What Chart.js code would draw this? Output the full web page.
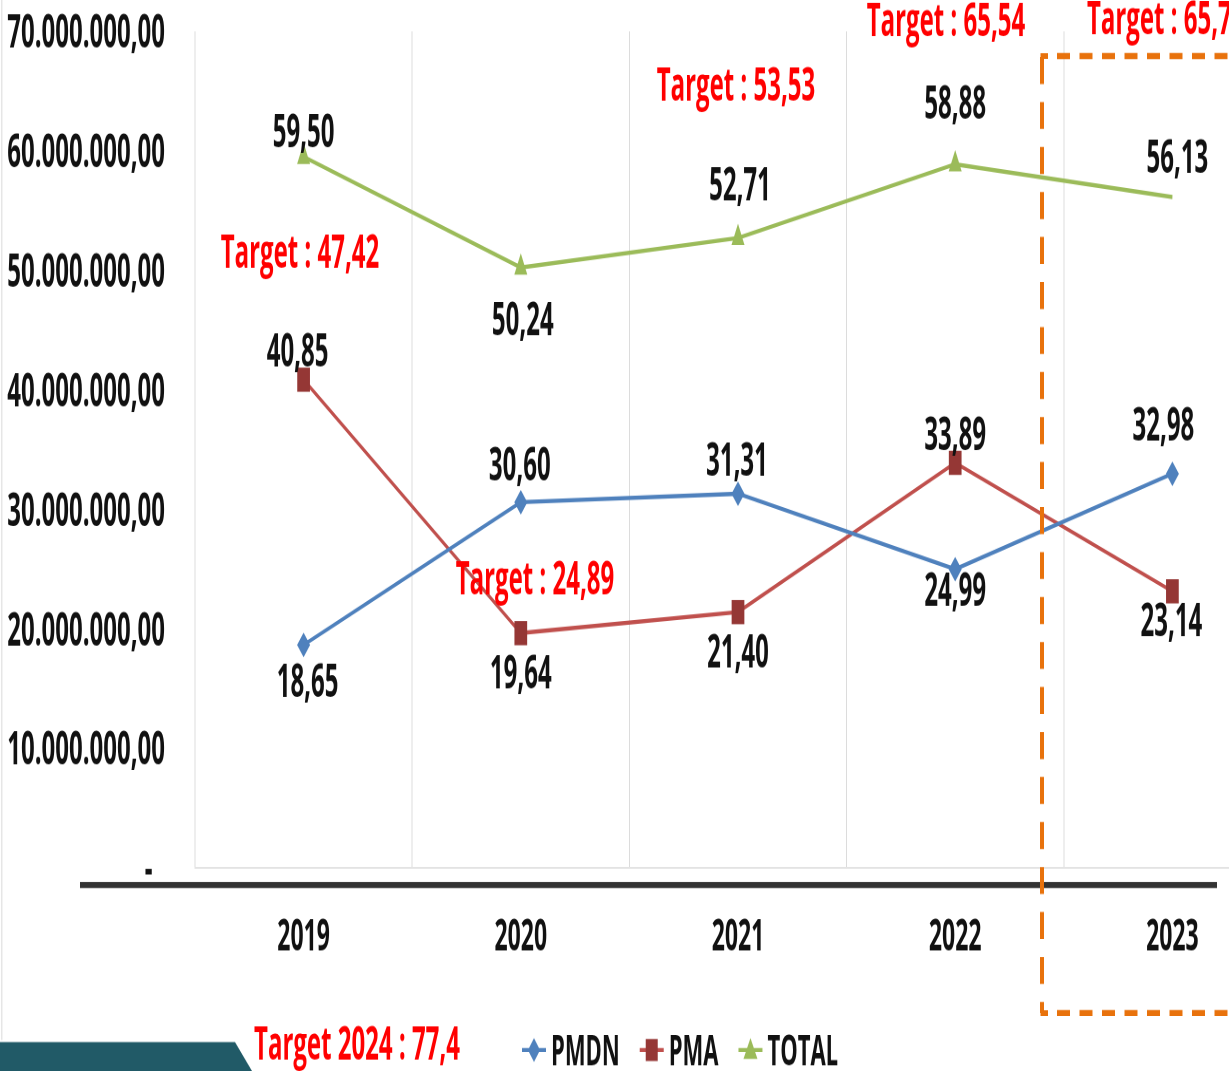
<!DOCTYPE html>
<html>
<head>
<meta charset="utf-8">
<script src="https://cdn.jsdelivr.net/npm/chart.js@4.4.0/dist/chart.umd.min.js"></script>
<style>
  html, body { margin: 0; padding: 0; background: #fff; overflow: hidden; }
  #wrap { width: 1229px; height: 1071px; overflow: hidden; position: relative; }
  #investChart { display: block; }
</style>
</head>
<body>
<div id="wrap">
  <canvas id="investChart" width="1290" height="564" style="width:1290px;height:1071px"></canvas>
</div>
<script>
// the original picture is squeezed sideways, so the canvas is drawn short and stretched tall
const H = 564;
const S = 1071 / H;

const years = ['2019', '2020', '2021', '2022', '2023'];
const pmdn  = [18.65, 30.60, 31.31, 24.99, 32.98];
const pma   = [40.85, 19.64, 21.40, 33.89, 23.14];
const total = [59.50, 50.24, 52.71, 58.88, 56.13];
const yTicks = [0, 10, 20, 30, 40, 50, 60, 70]; // juta
const targets = ['Target : 47,42', 'Target : 24,89', 'Target : 53,53', 'Target : 65,54', 'Target : 65,7'];
const target2024 = 'Target 2024 : 77,4';

const FONT = '"Open Sans", "Liberation Sans", sans-serif';

function fmtAxis(v) {
    if (v === 0) return '-  ';
    const n = Math.round(v * 1000000).toString().replace(/\B(?=(\d{3})+(?!\d))/g, '.');
    return n + ',00';
}
function fmtVal(v) {
    return v.toFixed(2).replace('.', ',');
}

// label offsets in screen pixels (dx, dy) from each point
const labelOffsets = [
    [[4, 39], [-1, -35], [-1, -31], [0, 24], [-9, -46]],
    [[-6, -26], [0, 42], [0, 42], [0, -26], [-1, 32]],
    [[0, -23], [2, 55], [2, -51], [0, -59], [5, -37]]
];
// where the red target notes sit, screen pixels
const targetPos = [[300, 255], [535, 581], [736, 88], [946, 23], [1087, 21]];

const decor = {
    id: 'decor',
    afterDraw(chart) {
        const ctx = chart.ctx;
        const sy = y => y / S;

        ctx.save();
        // faint left frame
        ctx.fillStyle = '#E6E6E6';
        ctx.fillRect(1, 0, 1.5, sy(1040));

        // heavy base line under the plot
        ctx.fillStyle = '#333333';
        ctx.fillRect(80, sy(882), 1137, sy(6));

        // teal shape bottom left
        ctx.fillStyle = '#215A67';
        ctx.beginPath();
        ctx.moveTo(0, sy(1042));
        ctx.lineTo(235, sy(1042));
        ctx.lineTo(252, sy(1071));
        ctx.lineTo(0, sy(1071));
        ctx.closePath();
        ctx.fill();

        // orange dashed box round 2023
        ctx.strokeStyle = '#E8720C';
        ctx.lineWidth = 4;
        ctx.setLineDash([27 / S, 18 / S]);
        ctx.beginPath();
        ctx.moveTo(1042, sy(57));
        ctx.lineTo(1042, sy(1013));
        ctx.stroke();
        ctx.lineWidth = sy(6);
        ctx.setLineDash([13, 9.5]);
        ctx.beginPath();
        ctx.moveTo(1057, sy(56));
        ctx.lineTo(1300, sy(56));
        ctx.moveTo(1057, sy(1013));
        ctx.lineTo(1300, sy(1013));
        ctx.stroke();
        ctx.setLineDash([]);
        ctx.lineWidth = 3;
        ctx.beginPath();
        ctx.moveTo(1042, sy(60));
        ctx.lineTo(1042, sy(56));
        ctx.lineTo(1048, sy(56));
        ctx.moveTo(1042, sy(1006));
        ctx.lineTo(1042, sy(1013));
        ctx.lineTo(1048, sy(1013));
        ctx.stroke();

        // red target notes
        ctx.fillStyle = '#FF0000';
        ctx.font = 'bold 24px ' + FONT;
        ctx.textBaseline = 'middle';
        targets.forEach((t, i) => {
            const [x, y] = targetPos[i];
            ctx.textAlign = i === 4 ? 'left' : 'center';
            ctx.fillText(t, x, sy(y));
        });
        ctx.textAlign = 'center';
        ctx.fillText(target2024, 357, sy(1047));

        // value labels
        ctx.fillStyle = '#111111';
        ctx.font = 'bold 24px ' + FONT;
        chart.data.datasets.forEach((ds, di) => {
            const meta = chart.getDatasetMeta(di);
            meta.data.forEach((pt, i) => {
                const [dx, dy] = labelOffsets[di][i];
                ctx.fillText(fmtVal(ds.data[i]), pt.x + dx, pt.y + sy(dy));
            });
        });

        // legend, line + marker like the spreadsheet one
        let x = 522;
        const ly = 1050;
        ctx.font = 'bold 22px ' + FONT;
        ctx.textAlign = 'left';
        chart.data.datasets.forEach(ds => {
            const cx = x + 12;
            ctx.strokeStyle = ds.borderColor;
            ctx.lineWidth = sy(4);
            ctx.beginPath();
            ctx.moveTo(x, sy(ly));
            ctx.lineTo(x + 24, sy(ly));
            ctx.stroke();
            ctx.fillStyle = ds.pointBackgroundColor;
            ctx.beginPath();
            if (ds.pointStyle === 'rectRot') {
                ctx.moveTo(cx, sy(ly - 12));
                ctx.lineTo(cx + 6, sy(ly));
                ctx.lineTo(cx, sy(ly + 12));
                ctx.lineTo(cx - 6, sy(ly));
            } else if (ds.pointStyle === 'rect') {
                ctx.rect(cx - 6, sy(ly - 11), 12, sy(22));
            } else {
                ctx.moveTo(cx, sy(ly - 12));
                ctx.lineTo(cx + 7, sy(ly + 9));
                ctx.lineTo(cx - 7, sy(ly + 9));
            }
            ctx.closePath();
            ctx.fill();
            ctx.fillStyle = '#111111';
            ctx.fillText(ds.label, x + 29, sy(ly + 3));
            x += 29 + ctx.measureText(ds.label).width + 20;
        });
        ctx.restore();
    }
};

const ctx = document.getElementById('investChart').getContext('2d');
const investChart = new Chart(ctx, {
    type: 'line',
    data: {
        labels: years,
        datasets: [
            {
                label: 'PMDN',
                data: pmdn,
                borderColor: '#4F81BD',
                pointBackgroundColor: '#4F81BD',
                pointBorderColor: '#4F81BD',
                pointStyle: 'rectRot',
                pointRadius: 6.5,
                pointBorderWidth: 0,
                borderWidth: 2.2,
                tension: 0
            },
            {
                label: 'PMA',
                data: pma,
                borderColor: '#C0504D',
                pointBackgroundColor: '#953735',
                pointBorderColor: '#953735',
                pointStyle: 'rect',
                pointRadius: 9,
                pointBorderWidth: 0,
                borderWidth: 2.2,
                tension: 0
            },
            {
                label: 'TOTAL',
                data: total,
                borderColor: '#9BBB59',
                pointBackgroundColor: '#9BBB59',
                pointBorderColor: '#9BBB59',
                pointStyle: 'triangle',
                pointRadius: [7.5, 7.5, 7.5, 7.5, 0],
                pointBorderWidth: 0,
                borderWidth: 2.2,
                tension: 0
            }
        ]
    },
    options: {
        responsive: false,
        animation: false,
        devicePixelRatio: 2,
        layout: { padding: { top: 16.5, right: 9, left: 0, bottom: 0 } },
        plugins: {
            legend: { display: false },
            tooltip: { enabled: false }
        },
        scales: {
            x: {
                offset: true,
                grid: { offset: true, color: '#DCDCDC', lineWidth: 1, drawTicks: false },
                border: { color: '#E3E3E3', width: 1 },
                ticks: {
                    padding: 23,
                    color: '#111111',
                    font: { family: FONT, size: 23, weight: 'bold' }
                },
                afterFit: scale => { scale.height = H - 457; }
            },
            y: {
                min: yTicks[0],
                max: yTicks[yTicks.length - 1],
                afterBuildTicks: scale => { scale.ticks = yTicks.map(v => ({ value: v })); },
                grid: { display: false, drawTicks: false },
                border: { display: false },
                ticks: {
                    padding: 30,
                    labelOffset: 1.8,
                    color: '#111111',
                    font: { family: FONT, size: 24, weight: 'bold' },
                    callback: v => fmtAxis(v)
                },
                afterFit: scale => {
                    scale.width = 195;
                    scale.paddingTop = 0;
                    scale.paddingBottom = 0;
                }
            }
        }
    },
    plugins: [decor]
});
</script>
</body>
</html>
